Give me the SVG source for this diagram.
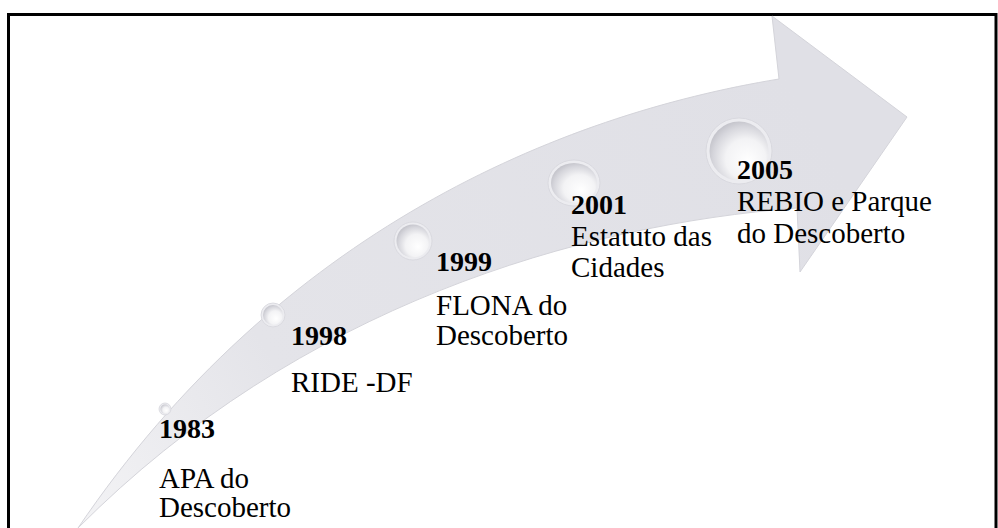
<svg xmlns="http://www.w3.org/2000/svg" width="998" height="528" viewBox="0 0 998 528">
<defs>
<linearGradient id="arrowFill" x1="80" y1="528" x2="800" y2="100" gradientUnits="userSpaceOnUse">
<stop offset="0" stop-color="#f3f3f5"/>
<stop offset="0.3" stop-color="#e4e4e9"/>
<stop offset="1" stop-color="#e0e0e6"/>
</linearGradient>
<radialGradient id="bubble" cx="0.58" cy="0.6" r="0.62" fx="0.66" fy="0.68">
<stop offset="0" stop-color="#ffffff"/>
<stop offset="0.55" stop-color="#f3f3f5"/>
<stop offset="0.85" stop-color="#d6d6dc"/>
<stop offset="1" stop-color="#c4c4cb"/>
</radialGradient>
<style>
.rim{fill:#ececf0;stroke:#d6d6dc;stroke-width:0.8}
.dot{fill:url(#bubble)}
text{font-family:'Liberation Serif','DejaVu Serif',serif;fill:#000}
.yr{font-weight:bold;font-size:28px}
.lb{font-size:29px}
</style>
</defs>
<rect x="0" y="0" width="998" height="528" fill="#ffffff"/>
<rect x="8.5" y="14.5" width="987.5" height="530" fill="none" stroke="#000" stroke-width="3"/>
<g id="connectors">
<path d="M 78,528 C 280,230 560,115 779,79 L 772,16 L 907,117 L 800,272 L 797,208 C 580,225 300,305 78,528 Z" fill="url(#arrowFill)" stroke="#d4d4da" stroke-width="1" stroke-linejoin="round"/>
</g>
<g id="m1983">
<circle class="rim" cx="165" cy="409" r="6"/>
<circle class="dot" cx="165" cy="409" r="4.5"/>
<text class="yr" x="159" y="438" font-family="Liberation Serif, serif">1983</text>
<text class="lb" x="159" y="488" font-family="Liberation Serif, serif">APA do</text>
<text class="lb" x="159" y="517" font-family="Liberation Serif, serif">Descoberto</text>
</g>
<g id="m1998">
<circle class="rim" cx="273" cy="315" r="12"/>
<circle class="dot" cx="273" cy="315" r="10"/>
<text class="yr" x="291" y="345" font-family="Liberation Serif, serif">1998</text>
<text class="lb" x="291" y="392" font-family="Liberation Serif, serif">RIDE -DF</text>
</g>
<g id="m1999">
<circle class="rim" cx="413" cy="241" r="19"/>
<circle class="dot" cx="413" cy="241" r="16.5"/>
<text class="yr" x="436" y="271" font-family="Liberation Serif, serif">1999</text>
<text class="lb" x="436" y="315" font-family="Liberation Serif, serif">FLONA do</text>
<text class="lb" x="436" y="345" font-family="Liberation Serif, serif">Descoberto</text>
</g>
<g id="m2001">
<ellipse class="rim" cx="574" cy="183" rx="26" ry="23"/>
<ellipse class="dot" cx="574" cy="183" rx="23" ry="20"/>
<text class="yr" x="571" y="214" font-family="Liberation Serif, serif">2001</text>
<text class="lb" x="571" y="246" font-family="Liberation Serif, serif">Estatuto das</text>
<text class="lb" x="571" y="277" font-family="Liberation Serif, serif">Cidades</text>
</g>
<g id="m2005">
<circle class="rim" cx="739" cy="151" r="33"/>
<circle class="dot" cx="739" cy="151" r="29.5"/>
<text class="yr" x="737" y="179" font-family="Liberation Serif, serif">2005</text>
<text class="lb" x="737" y="211" font-family="Liberation Serif, serif">REBIO e Parque</text>
<text class="lb" x="737" y="243" font-family="Liberation Serif, serif">do Descoberto</text>
</g>
</svg>
